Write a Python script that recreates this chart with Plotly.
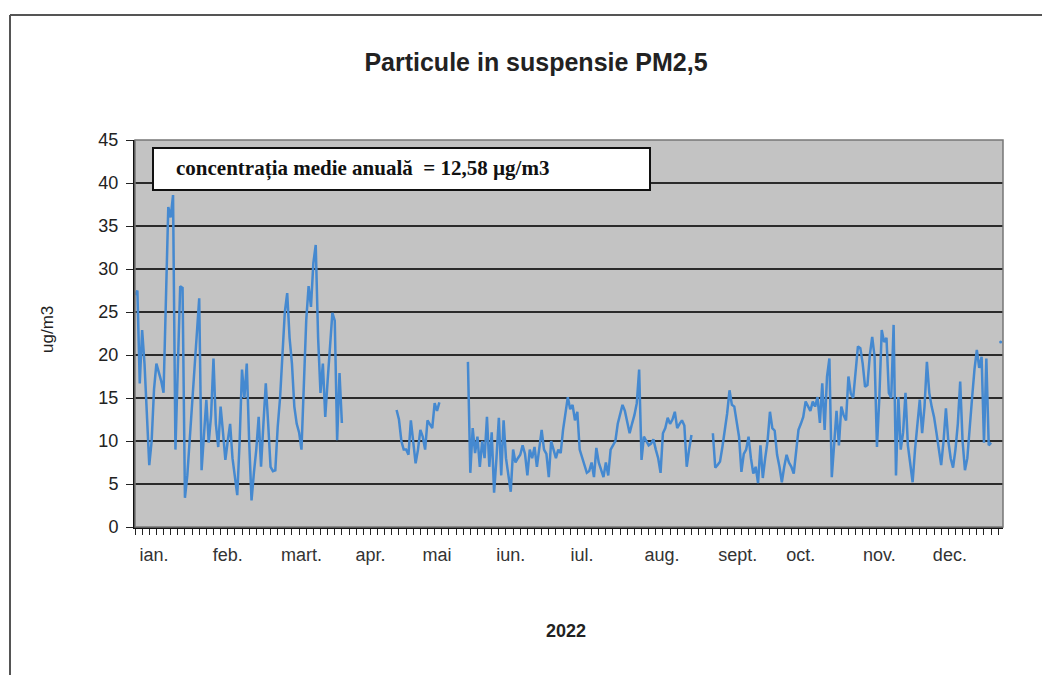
import plotly.graph_objects as go
import pandas as pd

# ---- data (daily PM2.5, ug/m3, 2022) ----
seg1_start = "2022-01-01"
seg1_values = [27, 27.5, 16.7, 22.9, 19, 12, 7.2, 10, 16, 19, 18, 17, 15.6, 25, 37.2, 36,
               38.6, 9, 20, 28, 27.8, 3.4, 6, 10, 14, 18, 22, 26.6, 6.6, 11, 14.8, 9.8,
               13, 19.6, 12, 9.3, 14, 11, 7.8, 10, 12, 8, 6, 3.7, 10, 18.3, 15, 19,
               10, 3.1, 6.3, 9, 12.8, 7, 12, 16.7, 12, 7, 6.5, 6.6, 11.6, 15, 20, 25,
               27.2, 22, 19, 14, 12, 11, 9, 16, 24, 28, 25.6, 30.7, 32.8, 22, 15.6, 19,
               12.8, 17, 21, 24.9, 24, 10.1, 17.9, 12.1]

seg2_start = "2022-04-21"
seg2_values = [13.6, 12.5, 10, 9, 9, 8.4, 12.4, 9.5, 7.4, 9, 11.3, 10.5, 9, 12.4, 12,
               11.5, 14.4, 13.5, 14.5]

seg3_start = "2022-05-21"
seg3_values = [19.2, 6.3, 11.5, 8.6, 10.5, 7, 10, 8, 12.8, 7, 11, 4, 8, 12.7, 6, 12.4,
               8, 6, 4.1, 9, 7.5, 8, 8.4, 9.5, 8.5, 6, 9, 8, 9.3, 7, 9, 11.3, 9, 8.5,
               5.8, 10, 9, 8, 9, 8.6, 11.3, 13, 15.1, 13.7, 14.2, 12.4, 13.4, 9, 8, 7,
               6.3, 6.5, 7.5, 5.8, 9.2, 7.5, 6.5, 5.8, 7.5, 6, 9, 9.5, 10, 12, 13, 14.2,
               13.5, 12.1, 10.9, 12, 13, 14.4, 18.3, 7.8, 10.5, 10, 9.5, 9.7, 10.2, 9, 8,
               6.3, 10.9, 11.5, 12.7, 12, 12.5, 13.4, 11.5, 12, 12.4, 11.8, 7, 9, 10.7]

seg4_start = "2022-09-01"
seg4_values = [10.9, 6.9, 7.2, 7.6, 9.3, 11, 13.2, 15.9, 14.2, 14, 12, 10.5, 6.4, 8.5, 9,
               10.5, 8, 6.2, 7, 5.1, 9.5, 5.7, 8, 10, 13.4, 11.5, 11.2, 8.4, 7, 5.2, 7,
               8.4, 7.5, 7, 6.2, 9, 11.3, 12, 12.8, 14.6, 14, 13.5, 14.6, 14, 15.1, 12.1,
               16.7, 11.3, 17.5, 19.6, 5.8, 10, 13.5, 9.5, 14, 13, 12.4, 17.5, 15.5, 15,
               18, 21, 20.8, 19, 16.3, 16.5, 20, 22.1, 19.8, 9.3, 15, 22.9, 21.5, 22, 15.6,
               15, 23.5, 6, 15.1, 9, 11, 15.6, 9.5, 7, 5.2, 9, 12, 14.8, 10.9, 14, 19.2,
               15.6, 14, 12.8, 11, 9, 7.2, 10, 13.8, 10, 8, 6.9, 9, 12, 16.9, 10, 6.6, 8,
               12, 15, 18.3, 20.6, 18.5, 19.8, 9.8, 19.6, 9.5, 9.8]

seg5_start = "2022-12-31"
seg5_values = [21.5]

month_labels = ["ian.", "feb.", "mart.", "apr.", "mai", "iun.", "iul.", "aug.",
                "sept.", "oct.", "nov.", "dec."]
month_label_dates = ["2022-01-09", "2022-02-09", "2022-03-12", "2022-04-10",
                     "2022-05-08", "2022-06-08", "2022-07-08", "2022-08-10 14:00",
                     "2022-09-11 12:00", "2022-10-08", "2022-11-10", "2022-12-09 16:00"]

title_text = "Particule in suspensie PM2,5"
note_text = "concentrația medie anuală  = 12,58 µg/m3"
x_title = "2022"
y_title = "ug/m3"

# ---- build one daily series with gaps ----
full_index = pd.date_range("2022-01-01", "2022-12-31", freq="D")
series = pd.Series([None] * len(full_index), index=full_index, dtype="object")
for start, vals in [(seg1_start, seg1_values), (seg2_start, seg2_values),
                    (seg3_start, seg3_values), (seg4_start, seg4_values),
                    (seg5_start, seg5_values)]:
    idx = pd.date_range(start, periods=len(vals), freq="D")
    series.loc[idx] = vals

line_color = "#4589d0"

fig = go.Figure()
fig.add_trace(go.Scatter(
    x=series.index, y=series.values, mode="lines",
    line=dict(color=line_color, width=2.5), connectgaps=False,
    showlegend=False, hoverinfo="x+y"))
# the isolated last day shows as a tiny dot
fig.add_trace(go.Scatter(
    x=pd.date_range(seg5_start, periods=len(seg5_values), freq="D"), y=seg5_values,
    mode="markers", marker=dict(color=line_color, size=3), showlegend=False))

OFF = 8  # page body margin
W, H = 1034, 667  # fits inside the window with the body margin (no scrollbars)
PX0, PX1, PY0, PY1 = 135, 1003, 140, 527  # plot area in the screenshot
L = PX0 - OFF
T = PY0 - OFF
R = W - (PX1 - OFF)
B = H - (PY1 - OFF)
pw, ph = PX1 - PX0, PY1 - PY0

def px_x(px):
    return (px - PX0) / pw

def px_y(py):
    return (PY1 - py) / ph

fig.update_layout(
    width=W, height=H,
    margin=dict(l=L, r=R, t=T, b=B),
    paper_bgcolor="white",
    plot_bgcolor="#c3c3c3",
    font=dict(family="Liberation Sans, Arial, sans-serif", color="#222"),
    title=dict(text="<b>" + title_text + "</b>", x=(536 - OFF) / W, y=1 - (62 - OFF) / H,
               xanchor="center", yanchor="middle",
               font=dict(size=25, color="#222", family="Liberation Sans, Arial, sans-serif")),
    xaxis=dict(
        type="date",
        range=["2022-01-01", "2023-01-01"],
        tickmode="array", tickvals=month_label_dates, ticktext=month_labels,
        ticks="", ticklabelstandoff=10,
        tickfont=dict(size=18, color="#333"),
        showgrid=False, zeroline=False,
        showline=True, linecolor="#111", linewidth=2,
        minor=dict(ticks="outside", ticklen=6, tickcolor="#222", tickwidth=1,
                   tickmode="linear", tick0="2022-01-01", dtick=3 * 86400000,
                   showgrid=False),
    ),
    yaxis=dict(
        range=[0, 45], tickmode="linear", tick0=0, dtick=5,
        ticks="outside", ticklen=7, tickcolor="#222", ticklabelstandoff=4,
        tickfont=dict(size=18, color="#222"),
        showgrid=True, gridcolor="#2a2a2a", gridwidth=1.5,
        zeroline=False, showline=True, linecolor="#111", linewidth=2,
    ),
)

shapes = [
    # plot area border (top/right)
    dict(type="rect", xref="paper", yref="paper", x0=0, x1=1, y0=0, y1=1,
         line=dict(color="#777", width=1.5), fillcolor="rgba(0,0,0,0)", layer="above"),
    # outer chart frame: top and left edges only (others are off the page)
    dict(type="line", xref="paper", yref="paper",
         x0=px_x(10), x1=px_x(1060), y0=px_y(15), y1=px_y(15),
         line=dict(color="#555", width=2)),
    dict(type="line", xref="paper", yref="paper",
         x0=px_x(10), x1=px_x(10), y0=px_y(15), y1=px_y(700),
         line=dict(color="#555", width=2)),
    # note box
    dict(type="rect", xref="paper", yref="paper",
         x0=px_x(153), x1=px_x(650), y0=px_y(190), y1=px_y(148),
         line=dict(color="#111", width=2), fillcolor="white", layer="above"),
]
fig.update_layout(shapes=shapes)

fig.add_annotation(
    text="<b>" + note_text + "</b>", xref="paper", yref="paper",
    x=px_x(174), y=px_y(169), xanchor="left", yanchor="middle", showarrow=False,
    font=dict(family="Liberation Serif, Times New Roman, serif", size=21, color="#111"))
fig.add_annotation(
    text="<b>" + x_title + "</b>", xref="paper", yref="paper",
    x=px_x(566), y=px_y(631), xanchor="center", yanchor="middle", showarrow=False,
    font=dict(size=18, color="#222"))
fig.add_annotation(
    text=y_title, xref="paper", yref="paper", textangle=-90,
    x=px_x(47), y=px_y(330), xanchor="center", yanchor="middle", showarrow=False,
    font=dict(size=17, color="#222"))

fig.write_html("out.html")
